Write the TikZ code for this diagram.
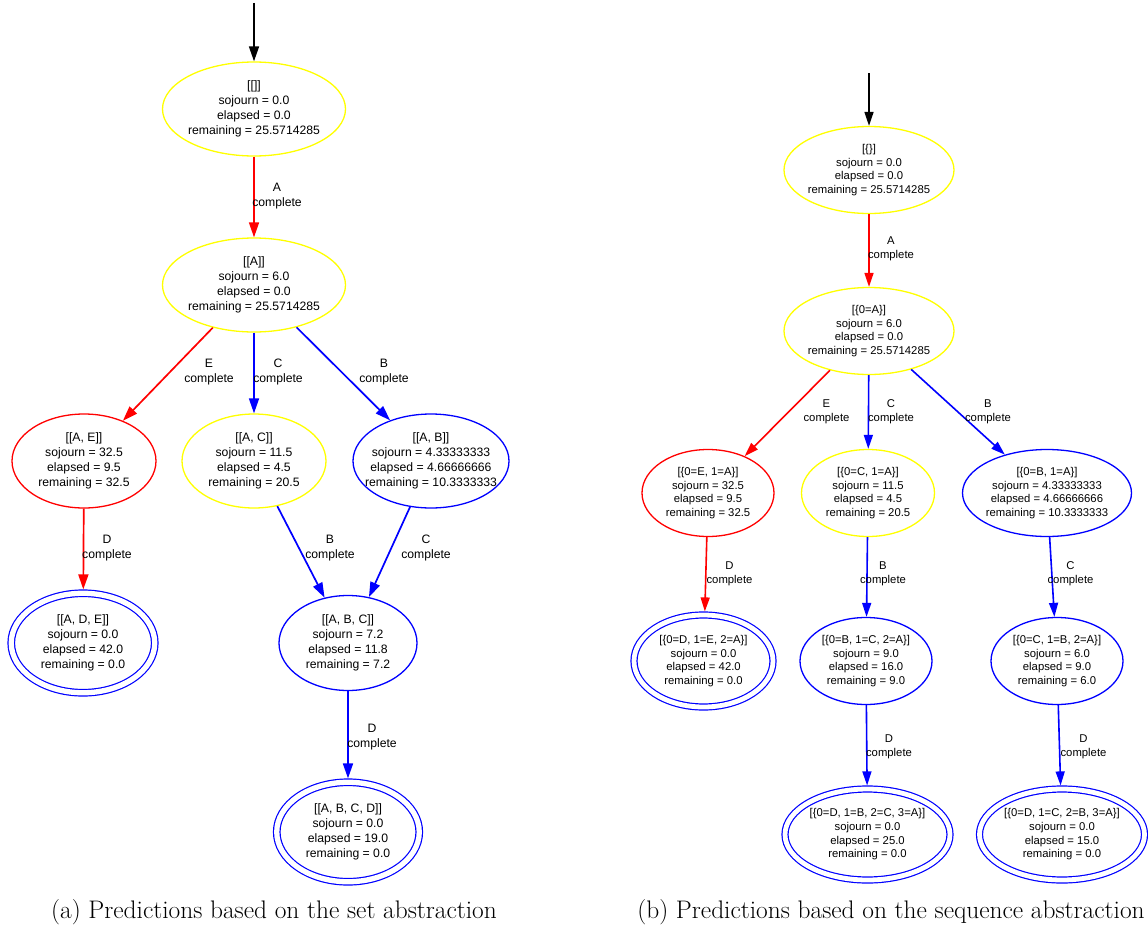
\documentclass[tikz,border=0pt]{standalone}
\usepackage{fontspec}
\newfontfamily\helv{Liberation Sans}
\usetikzlibrary{shapes.geometric,arrows.meta}

\definecolor{gvyellow}{RGB}{255,255,0}
\definecolor{gvred}{RGB}{255,0,0}
\definecolor{gvblue}{RGB}{0,0,255}

\tikzset{
  lfont/.style={font=\helv\fontsize{12.2}{15}\selectfont},
  rfont/.style={font=\helv\fontsize{11.3}{13.7}\selectfont},
  snode/.style={ellipse, draw, line width=1.3pt, inner xsep=-30pt, inner ysep=0pt,
                align=center, text=black},
  fnode/.style={snode, draw=gvblue, double=white, line width=1.2pt},
  lfinal/.style={fnode, double distance=5.3pt, outer sep=3.85pt},
  rfinal/.style={fnode, double distance=4.8pt, outer sep=3.6pt},
  ledge/.style={line width=1.7pt, -{Triangle[length=15pt,width=10pt]}},
  redge/.style={line width=1.6pt, -{Triangle[length=14pt,width=9pt]}},
  elabel/.style={align=center, text=black, inner sep=0pt},
  caption/.style={font=\fontsize{25.4}{30}\selectfont, inner sep=0pt}
}

\begin{document}
\begin{tikzpicture}[x=1pt, y=-1pt]
\useasboundingbox (0,0) rectangle (1148,934);

% ---------- (a) set abstraction ----------
\begin{scope}[lfont]
  \coordinate (sstart) at (254,3);
  \node[snode, draw=gvyellow, minimum width=183, minimum height=94] (s0) at (254,109)
    {[[]]\\sojourn = 0.0\\elapsed = 0.0\\remaining = 25.5714285};
  \node[snode, draw=gvyellow, minimum width=183, minimum height=94] (s1) at (254,285)
    {[[A]]\\sojourn = 6.0\\elapsed = 0.0\\remaining = 25.5714285};
  \node[snode, draw=gvred, minimum width=144, minimum height=94] (sae) at (84,461)
    {[[A, E]]\\sojourn = 32.5\\elapsed = 9.5\\remaining = 32.5};
  \node[snode, draw=gvyellow, minimum width=144, minimum height=94] (sac) at (254,461)
    {[[A, C]]\\sojourn = 11.5\\elapsed = 4.5\\remaining = 20.5};
  \node[snode, draw=gvblue, minimum width=156, minimum height=94] (sab) at (431,461)
    {[[A, B]]\\sojourn = 4.33333333\\elapsed = 4.66666666\\remaining = 10.3333333};
  \node[lfinal, minimum width=143.5, minimum height=99.5] (sade) at (83,643)
    {[[A, D, E]]\\sojourn = 0.0\\elapsed = 42.0\\remaining = 0.0};
  \node[snode, draw=gvblue, minimum width=138, minimum height=95] (sabc) at (348,643)
    {[[A, B, C]]\\sojourn = 7.2\\elapsed = 11.8\\remaining = 7.2};
  \node[lfinal, minimum width=142.5, minimum height=99.5] (sabcd) at (348,832)
    {[[A, B, C, D]]\\sojourn = 0.0\\elapsed = 19.0\\remaining = 0.0};

  \draw[ledge, black] (sstart) -- (s0);
  \draw[ledge, gvred] (s0) -- (s1);
  \draw[ledge, gvred] (s1) -- (sae);
  \draw[ledge, gvblue] (s1) -- (sac);
  \draw[ledge, gvblue] (s1) -- (sab);
  \draw[ledge, gvred] (sae) -- (sade);
  \draw[ledge, gvblue] (sac) -- (sabc);
  \draw[ledge, gvblue] (sab) -- (sabc);
  \draw[ledge, gvblue] (sabc) -- (sabcd);

  \node[elabel] (slA) at (277,196) {A\\complete};
  \node[elabel] (slE) at (209,372) {E\\complete};
  \node[elabel] (slC) at (278,372) {C\\complete};
  \node[elabel] (slB) at (384,372) {B\\complete};
  \node[elabel] (slD1) at (107,548) {D\\complete};
  \node[elabel] (slB2) at (330,548) {B\\complete};
  \node[elabel] (slC2) at (426,548) {C\\complete};
  \node[elabel] (slD2) at (372,737) {D\\complete};
\end{scope}

% ---------- (b) sequence abstraction ----------
\begin{scope}[rfont]
  \coordinate (qstart) at (869,73);
  \node[snode, draw=gvyellow, minimum width=170, minimum height=87] (q0) at (869,170)
    {[\{\}]\\sojourn = 0.0\\elapsed = 0.0\\remaining = 25.5714285};
  \node[snode, draw=gvyellow, minimum width=170, minimum height=87] (q1) at (869,331)
    {[\{0=A\}]\\sojourn = 6.0\\elapsed = 0.0\\remaining = 25.5714285};
  \node[snode, draw=gvred, minimum width=132, minimum height=87] (qe) at (708,493)
    {[\{0=E, 1=A\}]\\sojourn = 32.5\\elapsed = 9.5\\remaining = 32.5};
  \node[snode, draw=gvyellow, minimum width=133, minimum height=87] (qc) at (868,493)
    {[\{0=C, 1=A\}]\\sojourn = 11.5\\elapsed = 4.5\\remaining = 20.5};
  \node[snode, draw=gvblue, minimum width=169, minimum height=87] (qb) at (1047,493)
    {[\{0=B, 1=A\}]\\sojourn = 4.33333333\\elapsed = 4.66666666\\remaining = 10.3333333};
  \node[rfinal, minimum width=139, minimum height=92] (qdea) at (703.5,661)
    {[\{0=D, 1=E, 2=A\}]\\sojourn = 0.0\\elapsed = 42.0\\remaining = 0.0};
  \node[snode, draw=gvblue, minimum width=132, minimum height=87] (qbca) at (866,661)
    {[\{0=B, 1=C, 2=A\}]\\sojourn = 9.0\\elapsed = 16.0\\remaining = 9.0};
  \node[snode, draw=gvblue, minimum width=132, minimum height=87] (qcba) at (1057,661)
    {[\{0=C, 1=B, 2=A\}]\\sojourn = 6.0\\elapsed = 9.0\\remaining = 6.0};
  \node[rfinal, minimum width=165, minimum height=91] (qdbca) at (867.5,834.5)
    {[\{0=D, 1=B, 2=C, 3=A\}]\\sojourn = 0.0\\elapsed = 25.0\\remaining = 0.0};
  \node[rfinal, minimum width=165, minimum height=91] (qdcba) at (1062,834.5)
    {[\{0=D, 1=C, 2=B, 3=A\}]\\sojourn = 0.0\\elapsed = 15.0\\remaining = 0.0};

  \draw[redge, black] (qstart) -- (q0);
  \draw[redge, gvred] (q0) -- (q1);
  \draw[redge, gvred] (q1) -- (qe);
  \draw[redge, gvblue] (q1) -- (qc);
  \draw[redge, gvblue] (q1) -- (qb);
  \draw[redge, gvred] (qe) -- (qdea);
  \draw[redge, gvblue] (qc) -- (qbca);
  \draw[redge, gvblue] (qb) -- (qcba);
  \draw[redge, gvblue] (qbca) -- (qdbca);
  \draw[redge, gvblue] (qcba) -- (qdcba);

  \node[elabel] (qlA) at (891,249) {A\\complete};
  \node[elabel] (qlE) at (826.5,411.5) {E\\complete};
  \node[elabel] (qlC) at (891,411.5) {C\\complete};
  \node[elabel] (qlB) at (988,411.5) {B\\complete};
  \node[elabel] (qlD1) at (729.5,574) {D\\complete};
  \node[elabel] (qlB2) at (883,574) {B\\complete};
  \node[elabel] (qlC2) at (1070.5,574) {C\\complete};
  \node[elabel] (qlD2) at (889,747) {D\\complete};
  \node[elabel] (qlD3) at (1083.5,747) {D\\complete};
\end{scope}

% ---------- captions ----------
\node[caption] (capa) at (274,912) {(a) Predictions based on the set abstraction};
\node[caption] (capb) at (891,912) {(b) Predictions based on the sequence abstraction};
\end{tikzpicture}
\end{document}
